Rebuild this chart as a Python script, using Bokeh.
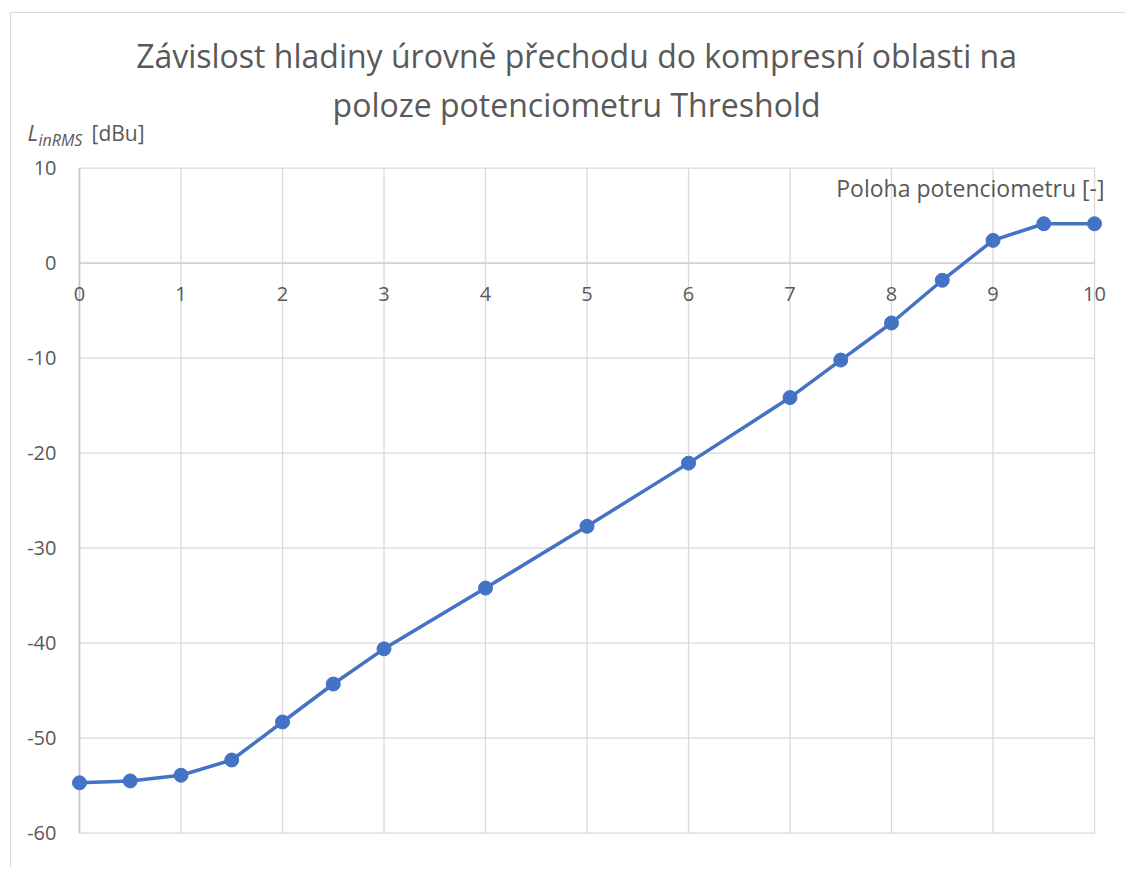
from bokeh.plotting import figure
from bokeh.models import Range1d, Label, LabelSet, ColumnDataSource
from bokeh.core.properties import value
from bokeh.embed import file_html
from bokeh.resources import INLINE

# ---- data ----
poloha = [0, 0.5, 1, 1.5, 2, 2.5, 3, 4, 5, 6, 7, 7.5, 8, 8.5, 9, 9.5, 10]
l_in_rms = [-54.7, -54.5, -53.9, -52.3, -48.3, -44.3, -40.6, -34.2, -27.7,
            -21.05, -14.15, -10.2, -6.3, -1.8, 2.4, 4.15, 4.15]
x_ticks = [0, 1, 2, 3, 4, 5, 6, 7, 8, 9, 10]
y_ticks = [10, 0, -10, -20, -30, -40, -50, -60]
x_tick_labels = [str(t) for t in x_ticks]
y_tick_labels = [str(t) for t in y_ticks]
title_lines = ["Závislost hladiny úrovně přechodu do kompresní oblasti na",
               "poloze potenciometru Threshold"]
x_title = "Poloha potenciometru [-]"

FONT = "Open Sans"
TXT = "#595959"
GRID = "#d9d9d9"
BLUE = "#4472c4"

# the plotting frame covers the whole canvas so that no text is clipped
p = figure(width=1115, height=855, output_backend="svg", toolbar_location=None,
           x_range=Range1d(-0.67, 10.315), y_range=Range1d(-63.72, 26.28),
           min_border_left=0, min_border_right=0, min_border_top=0,
           min_border_bottom=0,
           styles={"margin-left": "10px", "margin-top": "12px",
                   "border-left": "1px solid #d9d9d9",
                   "border-top": "1px solid #d9d9d9"})
p.axis.visible = False
p.grid.visible = False
p.outline_line_color = None
p.background_fill_color = "white"
p.border_fill_color = "white"

xmin, xmax = x_ticks[0], x_ticks[-1]
ymin, ymax = min(y_ticks), max(y_ticks)

# grid lines (limited to the data area as in the reference)
p.segment(x0=[xmin] * len(y_ticks), x1=[xmax] * len(y_ticks), y0=y_ticks, y1=y_ticks,
          line_color=GRID, line_width=1.3)
p.segment(x0=x_ticks, x1=x_ticks, y0=[ymin] * len(x_ticks), y1=[ymax] * len(x_ticks),
          line_color=GRID, line_width=1.3)
# axis lines
p.segment(x0=[xmin], x1=[xmin], y0=[ymin], y1=[ymax], line_color="#c4c4c4", line_width=1.6)
p.segment(x0=[xmin], x1=[xmax], y0=[0], y1=[0], line_color="#cccccc", line_width=1.4)

# series
p.line(poloha, l_in_rms, line_color=BLUE, line_width=3.5)
p.scatter(poloha, l_in_rms, size=14, fill_color=BLUE, line_color=BLUE)

# tick labels
ysrc = ColumnDataSource(dict(x=[xmin] * len(y_ticks), y=y_ticks, t=y_tick_labels))
p.add_layout(LabelSet(x="x", y="y", text="t", source=ysrc, x_offset=-23,
                      text_align="right", text_baseline="middle",
                      text_font=value(FONT), text_font_size="20px", text_color=TXT))
xsrc = ColumnDataSource(dict(x=x_ticks, y=[0] * len(x_ticks), t=x_tick_labels))
p.add_layout(LabelSet(x="x", y="y", text="t", source=xsrc, y_offset=-31,
                      text_align="center", text_baseline="middle",
                      text_font=value(FONT), text_font_size="20px", text_color=TXT))

# title
p.add_layout(Label(x=4.897, y=ymax, y_offset=113, text=title_lines[0],
                   text_align="center", text_baseline="alphabetic",
                   text_font=FONT, text_font_size="32px", text_color=TXT))
p.add_layout(Label(x=4.897, y=ymax, y_offset=64, text=title_lines[1],
                   text_align="center", text_baseline="alphabetic",
                   text_font=FONT, text_font_size="32px", text_color=TXT))

# y axis title  L_inRMS [dBu]
p.add_layout(Label(x=xmin, y=ymax, x_offset=-52, y_offset=36, text="L",
                   text_align="left", text_baseline="alphabetic",
                   text_font=FONT, text_font_size="22px", text_font_style="italic",
                   text_color=TXT))
p.add_layout(Label(x=xmin, y=ymax, x_offset=-41, y_offset=28, text="inRMS",
                   text_align="left", text_baseline="alphabetic",
                   text_font=FONT, text_font_size="16px", text_font_style="italic",
                   text_color=TXT))
p.add_layout(Label(x=xmin, y=ymax, x_offset=12, y_offset=35, text="[dBu]",
                   text_align="left", text_baseline="alphabetic",
                   text_font=FONT, text_font_size="21px", text_color=TXT))

# x axis title
p.add_layout(Label(x=xmax, y=ymax, x_offset=10, y_offset=-20, text=x_title,
                   text_align="right", text_baseline="alphabetic",
                   text_font=FONT, text_font_size="23px", text_color=TXT))

open("out.html", "w").write(file_html(p, INLINE))
